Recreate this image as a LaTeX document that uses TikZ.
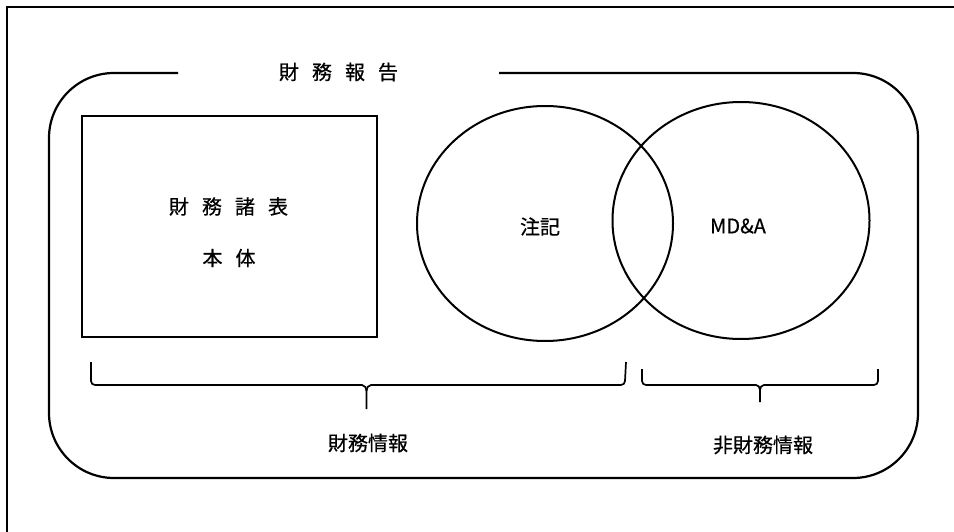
\documentclass[tikz,border=0pt]{standalone}
\usepackage{fontspec}
\newfontfamily\jp[FakeBold=0.5]{Noto Sans CJK JP}
\usetikzlibrary{shapes.geometric}
\tikzset{
  label/.style={font=\jp\fontsize{20pt}{24pt}\selectfont, inner sep=0pt},
  venn/.style={draw, ellipse, line width=2pt, inner sep=0pt},
  curly/.style={line width=1.7pt, line join=round}
}
\newcommand{\gap}{\kern13pt}
\begin{document}
\begin{tikzpicture}[x=1pt, y=-1pt]
\useasboundingbox (0,0) rectangle (954,532);
% outer frame
\draw [line width=1.8pt] (7,532) -- (7,7) -- (954,7);
% report box
\node[label] (report) at (338.5,72) {財\gap 務\gap 報\gap 告};
\draw [line width=2.2pt, rounded corners=65pt] (178,73) -- (49,73) -- (49,478) -- (918,478) -- (918,73) -- (499,73);
% statements
\node[draw, line width=2.2pt, minimum width=295pt, minimum height=221pt, inner sep=0pt] (stmt) at (229.5,226.5) {};
\node[label] (stmt1) at (228.5,206.5) {財\gap 務\gap 諸\gap 表};
\node[label] (stmt2) at (229,258) {本\gap 体};
% notes and MD&A
\node[venn, minimum width=256pt, minimum height=235pt] (notes) at (545,223.5) {};
\node[venn, minimum width=257pt, minimum height=237pt] (mda) at (741,220.5) {};
\node[label] (notestext) at (540,226.5) {注記};
\node[label] (mdatext) at (738,226) {MD\&A};
% braces
\coordinate (finL) at (91,362);
\coordinate (finR) at (626,362);
\coordinate (finM) at (366.5,409);
\coordinate (nonL) at (642,369);
\coordinate (nonR) at (878,369);
\coordinate (nonM) at (760,402);
\draw [curly] (finL) -- (91,381) to[out=-90,in=180] (95,385) -- (362,385)
  to[out=0,in=90] (366.5,391) -- (finM);
\draw [curly] (366.5,391) to[out=90,in=180] (371,385) -- (621,385)
  to[out=0,in=-90] (625,381) -- (finR);
\draw [curly] (nonL) -- (642,381) to[out=-90,in=180] (646,385) -- (756,385)
  to[out=0,in=90] (760,390) -- (nonM);
\draw [curly] (760,390) to[out=90,in=180] (764,385) -- (874,385)
  to[out=0,in=-90] (878,381) -- (nonR);
\node[label] (fin) at (368,443) {財務情報};
\node[label] (nonfin) at (763,445) {非財務情報};
\end{tikzpicture}
\end{document}
